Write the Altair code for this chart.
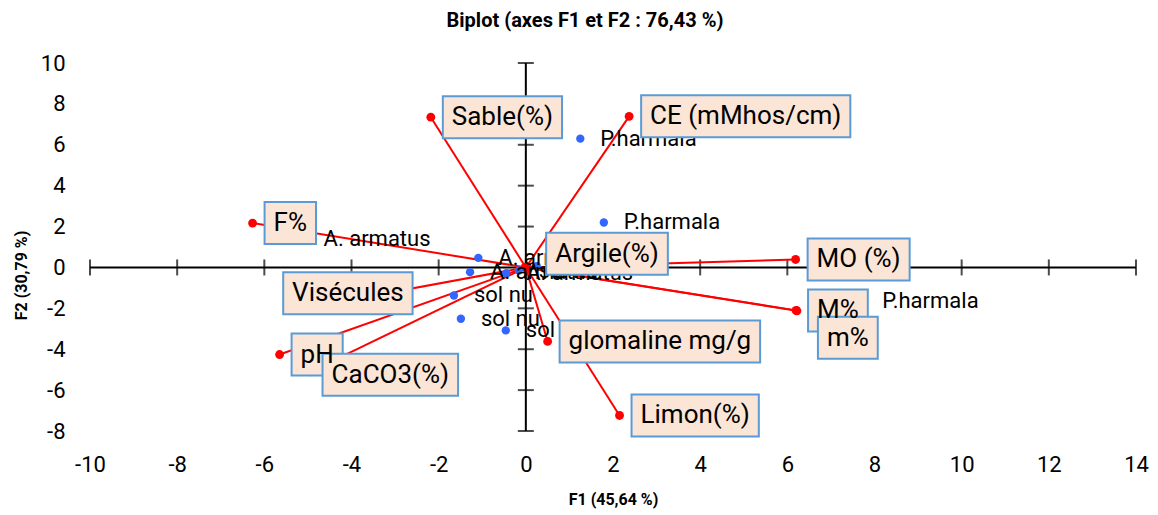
import altair as alt
import pandas as pd

# ---------------- data ----------------
obs_labels = ["P.harmala", "P.harmala", "P.harmala", "P.harmala",
              "A. armatus", "A. armatus", "A. armatus", "A. armatus",
              "sol nu", "sol nu", "sol nu", "sol nu"]
obs_f1 = [1.25, 1.79, 7.72, 0.25, -5.10, -1.09, -1.28, -0.45, -1.65, -1.49, -0.46, -0.16]
obs_f2 = [6.30, 2.20, -1.66, 0.06, 1.37, 0.47, -0.23, -0.28, -1.37, -2.51, -3.08, -0.15]

var_labels = ["Sable(%)", "CE (mMhos/cm)", "F%", "MO (%)", "M%", "m%", "Argile(%)",
              "glomaline mg/g", "Limon(%)", "pH", "CaCO3(%)", "Visécules"]
var_f1 = [-2.18, 2.37, -6.27, 6.19, 6.20, 6.22, 0.03, 0.50, 2.15, -5.65, -4.94, -5.20]
var_f2 = [7.35, 7.39, 2.17, 0.39, -2.10, -2.12, 0.03, -3.62, -7.24, -4.26, -5.10, -2.05]

x_ticks = [-10, -8, -6, -4, -2, 0, 2, 4, 6, 8, 10, 12, 14]
y_ticks = [-8, -6, -4, -2, 0, 2, 4, 6, 8, 10]

title_text = "Biplot (axes F1 et F2 : 76,43 %)"
x_title = "F1 (45,64 %)"
y_title = "F2 (30,79 %)"

# ---------------- layout / style ----------------
X_MIN, X_MAX = x_ticks[0], x_ticks[-1]
Y_MIN, Y_MAX = y_ticks[0], y_ticks[-1]
W, H = 1046, 368
PX_X = W / (X_MAX - X_MIN)
PX_Y = H / (Y_MAX - Y_MIN)
FONT = "Roboto"
BOX_FONT = 26
BOX_PAD = 9
BOX_H = 42
# label box placement relative to the point (pixels: right, down)
DEFAULT_OFF = (12, 0)
label_offsets = {"m%": (21, 27), "Visécules": (-16, -16), "Argile(%)": (19, -13),
                 "CaCO3(%)": (12, 3)}

CW = {' ': .248, '%': .733, '(': .342, ')': .348, '/': .412, 'A': .652, 'C': .652,
      'E': .568, 'F': .553, 'L': .539, 'M': .873, 'O': .688, 'S': .593, 'V': .636,
      'H': .713, 'a': .544, 'b': .561, 'c': .523, 'e': .529, 'é': .529, 'g': .561,
      'h': .551, 'i': .243, 'l': .243, 'm': .876, 'n': .552, 'o': .570, 'r': .338,
      's': .515, 't': .327, 'u': .551, 'p': .561}


def text_width(s, size):
    return sum(CW.get(c, .562 if c.isdigit() else .55) for c in s) * size


obs = pd.DataFrame({"label": obs_labels, "F1": obs_f1, "F2": obs_f2})

rows = []
for lab, a, b in zip(var_labels, var_f1, var_f2):
    dx, dy = label_offsets.get(lab, DEFAULT_OFF)
    bw = text_width(lab, BOX_FONT) + 2 * BOX_PAD
    bx1 = a + dx / PX_X
    bx2 = bx1 + bw / PX_X
    cy = b - dy / PX_Y
    rows.append({"label": lab, "F1": a, "F2": b, "x0": 0.0, "y0": 0.0,
                 "bx1": bx1, "bx2": bx2, "by1": cy - BOX_H / 2 / PX_Y,
                 "by2": cy + BOX_H / 2 / PX_Y, "tx": (bx1 + bx2) / 2, "ty": cy})
var = pd.DataFrame(rows)

xs = alt.Scale(domain=[X_MIN, X_MAX], nice=False, zero=False)
ys = alt.Scale(domain=[Y_MIN, Y_MAX], nice=False, zero=False)

x_axis = alt.Axis(values=x_ticks, domain=False, ticks=False, grid=False,
                  labelFont=FONT, labelFontSize=22, labelColor="black",
                  labelPadding=23, labelFlush=False, labelOverlap=False,
                  labelExpr="toString(datum.value)",
                  titleFont=FONT, titleFontSize=16,
                  titleFontWeight="bold", titleColor="black",
                  titleX=W / 2, titleY=68, titleBaseline="middle")
y_axis = alt.Axis(values=y_ticks, domain=False, ticks=False, grid=False,
                  labelFont=FONT, labelFontSize=22, labelColor="black",
                  labelPadding=25, labelFlush=False, labelOverlap=False,
                  labelExpr="toString(datum.value)",
                  titleFont=FONT, titleFontSize=16,
                  titleFontWeight="bold", titleColor="black",
                  titleX=-69, titleY=212, titleAngle=-90,
                  titleAlign="center", titleBaseline="middle")


def X(field):
    return alt.X(field, scale=xs, axis=x_axis, title=x_title)


def Y(field):
    return alt.Y(field, scale=ys, axis=y_axis, title=y_title)


axes_df = pd.DataFrame({"x1": [X_MIN, 0], "x2": [X_MAX, 0],
                        "y1": [0, Y_MIN], "y2": [0, Y_MAX]})
xt_df = pd.DataFrame({"t": x_ticks, "z": 0})
yt_df = pd.DataFrame({"t": y_ticks, "z": 0})

axis_lines = alt.Chart(axes_df).mark_rule(color="black", strokeWidth=2).encode(
    x=X("x1:Q"), x2="x2:Q", y=Y("y1:Q"), y2="y2:Q")
xtick_marks = alt.Chart(xt_df).mark_tick(orient="vertical", size=16, thickness=2,
                                         color="black").encode(x=X("t:Q"), y=Y("z:Q"))
ytick_marks = alt.Chart(yt_df).mark_tick(orient="horizontal", size=16, thickness=2,
                                         color="black").encode(x=X("z:Q"), y=Y("t:Q"))

vectors = alt.Chart(var).mark_rule(color="#ff0000", strokeWidth=2).encode(
    x=X("x0:Q"), y=Y("y0:Q"), x2="F1:Q", y2="F2:Q")
origin_dots = alt.Chart(var).mark_circle(color="#ff0000", size=78, opacity=1).encode(
    x=X("x0:Q"), y=Y("y0:Q"))
var_dots = alt.Chart(var).mark_circle(color="#ff0000", size=78, opacity=1).encode(
    x=X("F1:Q"), y=Y("F2:Q"))

obs_dots = alt.Chart(obs).mark_circle(color="#3366ff", size=70, opacity=1).encode(
    x=X("F1:Q"), y=Y("F2:Q"))
obs_text = alt.Chart(obs).mark_text(align="left", baseline="middle", dx=20,
                                    font=FONT, fontSize=22, color="black").encode(
    x=X("F1:Q"), y=Y("F2:Q"), text="label:N")

boxes = alt.Chart(var).mark_rect(fill="#fbe5d6", stroke="#5b9bd5",
                                 strokeWidth=2).encode(
    x=X("bx1:Q"), x2="bx2:Q", y=Y("by1:Q"), y2="by2:Q")
box_text = alt.Chart(var).mark_text(align="center", baseline="middle", font=FONT,
                                    fontSize=BOX_FONT, color="black").encode(
    x=X("tx:Q"), y=Y("ty:Q"), text="label:N")

chart = alt.layer(
    axis_lines, xtick_marks, ytick_marks, vectors, origin_dots, var_dots,
    obs_dots, obs_text, boxes, box_text
).properties(
    width=W, height=H,
    title=alt.TitleParams(text=title_text, font=FONT, fontSize=20, fontWeight="bold",
                          color="black", anchor="middle", dx=-28, offset=21),
    padding={"left": 82, "top": 55, "right": 14, "bottom": 78},
    autosize=alt.AutoSizeParams(type="none"),
).configure_view(stroke=None)

chart.save("out.html", embed_options={"renderer": "svg", "actions": False})
